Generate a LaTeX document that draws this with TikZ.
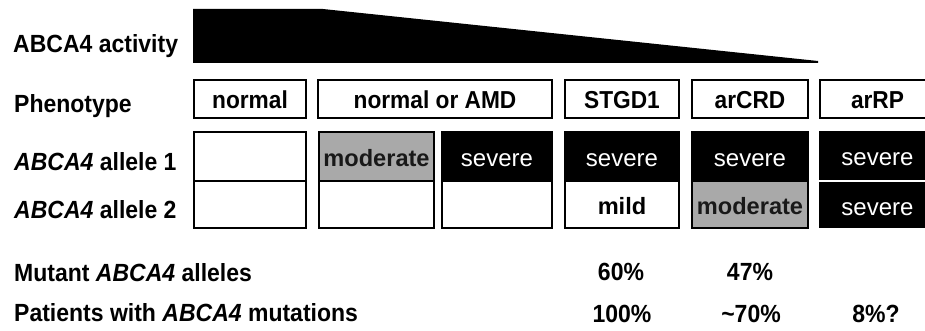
\documentclass[tikz,border=0pt]{standalone}
\usepackage{fontspec}
\setmainfont{Liberation Sans}
\definecolor{modgray}{HTML}{A9A9A9}
% slightly taller lettering
\newcommand{\tallword}[1]{\scalebox{1}[1.08]{#1}}
\begin{document}
\begin{tikzpicture}[x=1pt,y=-1pt,
  lbl/.style={anchor=base west,inner sep=0pt,font=\fontsize{23}{27}\selectfont\bfseries},
  pct/.style={anchor=base,inner sep=0pt,font=\fontsize{23}{27}\selectfont\bfseries},
  box/.style={draw=black,line width=2pt,inner sep=0pt,text height=20pt,text depth=0pt,fill=white},
  phen/.style={box,minimum height=38pt,font=\fontsize{22.7}{27}\selectfont\bfseries},
  rowa/.style={box,minimum height=49pt},
  rowb/.style={box,minimum height=47pt},
  sev/.style={fill=black,text=white,font=\fontsize{24}{28}\selectfont},
  mod/.style={fill=modgray,text=black!90,font=\fontsize{23.6}{28}\selectfont\bfseries},
  mld/.style={font=\fontsize{23.6}{28}\selectfont\bfseries}]

\clip (0,0) rectangle (925,331);

% activity wedge
\fill[black] (193,9) -- (323,9) -- (818,61) -- (818,63) -- (193,63) -- cycle;

% row labels
\node[lbl] (lact) at (13,53) {\tallword{ABCA4 activity}};
\node[lbl] (lphen) at (14,113) {\tallword{Phenotype}};
\node[lbl] (lal1) at (14,171) {\tallword{\textit{ABCA4} allele 1}};
\node[lbl] (lal2) at (14,218) {\tallword{\textit{ABCA4} allele 2}};
\node[lbl] (lmut) at (14,281) {\tallword{Mutant \textit{ABCA4} alleles}};
\node[lbl] (lpat) at (14,321) {\tallword{Patients with \textit{ABCA4} mutations}};

% phenotype boxes
\node[phen,minimum width=112pt] (pnorm) at (250,99) {\tallword{normal}};
\node[phen,minimum width=234pt] (pamd) at (435,99) {\tallword{normal or AMD}};
\node[phen,minimum width=114pt] (pstg) at (622,99) {\tallword{STGD1}};
\node[phen,minimum width=116pt] (pcrd) at (750,99) {\tallword{arCRD}};
\node[phen,minimum width=115pt] (prp) at (877.5,99) {\tallword{arRP}};

% allele 1
\node[rowa,minimum width=112pt] (a1) at (250,156.5) {};
\node[rowa,mod,minimum width=115pt] (a2) at (376.5,156.5) {moderate};
\node[rowa,sev,minimum width=110pt] (a3) at (497,156.5) {severe};
\node[rowa,sev,minimum width=114pt] (a4) at (622,156.5) {severe};
\node[rowa,sev,minimum width=116pt] (a5) at (750,156.5) {severe};
\node[box,sev,minimum height=47pt,minimum width=115pt] (a6) at (877.5,155.5) {severe};

% allele 2
\node[rowb,minimum width=112pt] (b1) at (250,204.5) {};
\node[rowb,minimum width=115pt] (b2) at (376.5,204.5) {};
\node[rowb,minimum width=110pt] (b3) at (497,204.5) {};
\node[rowb,mld,minimum width=114pt] (b4) at (622,204.5) {mild};
\node[rowb,mod,minimum width=116pt] (b5) at (750,204.5) {moderate};
\node[box,sev,minimum height=44pt,minimum width=115pt] (b6) at (877.5,205) {severe};

% frequencies
\node[pct] (m4) at (621,280) {\tallword{60\%}};
\node[pct] (m5) at (750,280) {\tallword{47\%}};
\node[pct] (q4) at (622,322) {\tallword{100\%}};
\node[pct] (q5) at (751,322) {\tallword{\textasciitilde70\%}};
\node[pct] (q6) at (876,322) {\tallword{8\%?}};
\end{tikzpicture}
\end{document}
